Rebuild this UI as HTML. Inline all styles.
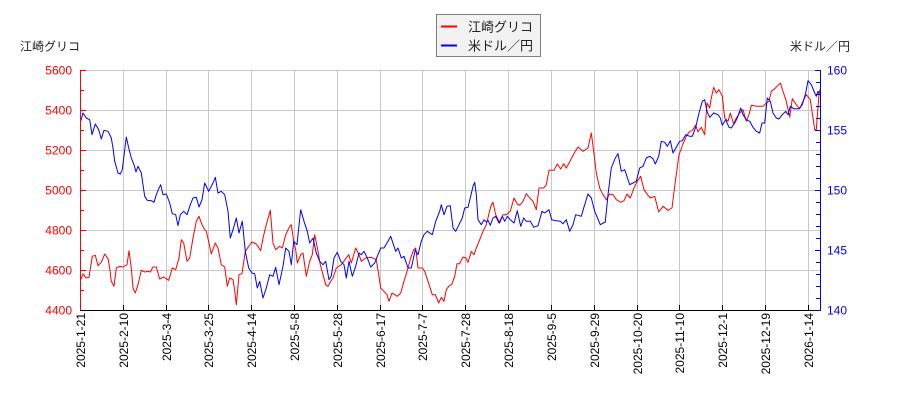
<!DOCTYPE html>
<html><head><meta charset="utf-8"><style>
html,body{margin:0;padding:0;background:#fff;}
svg{display:block;}
text{font-family:"Liberation Sans","Noto Sans CJK JP",sans-serif;}
</style></head><body>
<svg width="900" height="400" viewBox="0 0 900 400" xmlns="http://www.w3.org/2000/svg">
<rect width="900" height="400" fill="#fff"/>
<g stroke="#c8c8c8" stroke-width="1" shape-rendering="crispEdges">
<line x1="80" y1="70.5" x2="820" y2="70.5"/>
<line x1="80" y1="110.5" x2="820" y2="110.5"/>
<line x1="80" y1="150.5" x2="820" y2="150.5"/>
<line x1="80" y1="190.5" x2="820" y2="190.5"/>
<line x1="80" y1="230.5" x2="820" y2="230.5"/>
<line x1="80" y1="270.5" x2="820" y2="270.5"/>
<line x1="123.5" y1="70" x2="123.5" y2="310"/>
<line x1="166.5" y1="70" x2="166.5" y2="310"/>
<line x1="208.5" y1="70" x2="208.5" y2="310"/>
<line x1="251.5" y1="70" x2="251.5" y2="310"/>
<line x1="294.5" y1="70" x2="294.5" y2="310"/>
<line x1="337.5" y1="70" x2="337.5" y2="310"/>
<line x1="380.5" y1="70" x2="380.5" y2="310"/>
<line x1="422.5" y1="70" x2="422.5" y2="310"/>
<line x1="465.5" y1="70" x2="465.5" y2="310"/>
<line x1="508.5" y1="70" x2="508.5" y2="310"/>
<line x1="551.5" y1="70" x2="551.5" y2="310"/>
<line x1="594.5" y1="70" x2="594.5" y2="310"/>
<line x1="637.5" y1="70" x2="637.5" y2="310"/>
<line x1="679.5" y1="70" x2="679.5" y2="310"/>
<line x1="722.5" y1="70" x2="722.5" y2="310"/>
<line x1="765.5" y1="70" x2="765.5" y2="310"/>
<line x1="808.5" y1="70" x2="808.5" y2="310"/>
</g>

<polyline fill="none" stroke="#ff0000" stroke-width="1" stroke-linejoin="round" points="80.7,279.7 83,274 86.3,278 89,277.3 90.7,266.3 92.3,256.3 95.3,255.3 98,265.7 101.3,262.3 104.7,254 108,258.7 109.7,268 111.3,281.3 114,286.3 116.3,268 119.7,266.3 123,267 127,264.7 129,250.7 131.3,268 133,288 135.3,293 138,284.7 141.3,270.3 144.7,272 148,271.3 150.3,272 153,267 156.3,267 159.7,279 163.7,277 168.7,280.3 172.3,268 175.7,269.7 179,258 181.3,239.7 183.7,243 187,261.3 189.7,258 193,238 196.3,221.3 199,216.3 202,224.7 204.7,229.7 206.3,231.3 209,243 211.3,254 215.3,243 218,248 221.3,264.7 224.7,267 227.3,286.3 229.7,278 233,279.7 234.7,290.7 236.3,304.7 239,274.7 242,273.7 245.3,251.3 248.7,246.3 252,242 256.3,244 260.7,250.7 263,238 266.3,224.7 270.3,210.3 273,243 275.7,249.7 279.7,246.3 282.3,248 285.7,234.7 289.7,226.3 291.3,224.7 293.7,241.3 295.7,249.7 297.3,263 300.7,254.7 303,253 306.3,276.3 309.7,261.3 312.3,254.7 314.7,234.7 318,251.3 320.3,264.7 323,274.7 325.7,284.7 328,286.3 330.7,281.3 333,278 336.3,268 341.3,264.7 348.7,254.7 351.3,263 355.7,248 359,254.7 361.3,261.3 365.7,258 371.3,257.3 376.3,259.7 378.7,274.7 380.7,288 384,291.3 387,294.7 389,301.3 392,293 394.7,294.7 397.3,296.3 400.7,293 404,281.3 408,268 410.7,258 413.7,249.7 415.7,248 418,268 422.3,268 424.7,271.3 428,281.3 432.3,294.7 435.3,294.7 438.7,303 441.3,297.3 444,301.3 446.3,289.7 448.7,286.3 452,284 454.7,276.3 457,263.7 459.7,263.7 463,257 465.7,258 468,262.3 471.3,251.3 474,254.7 476.3,248 479.7,239.7 483,231.3 486.3,224.7 488.7,214.7 491.3,204.7 493,202.3 495.7,214.7 499.7,223 503,214.7 506.3,214.7 510.3,211.3 514,198 517.3,204 519.7,205.3 523,201.3 526.3,193.7 529.7,198 533,201.3 536.3,209.7 539,188 543.7,188 546.3,184.7 549,170.3 554,170.3 557.3,164 560.7,169 563.7,163.7 566.3,168 570.3,160.7 573.7,154 578,147 583,151.3 588,148 591.3,133 593.7,151.3 596.3,173 599.7,188 603,194.7 606.3,199.7 609.7,194 613,194.7 616.3,199.7 620.7,202.3 624,200.7 627,194 630.3,198 634,188 637.3,181.3 640.7,176.3 644,189.7 648,195.3 650.3,198 654.7,196.3 658.7,212 663,206.3 668,210.3 672,208 674.7,186.3 679,154.7 683,144 686.3,136.3 689.7,131.3 692.3,130.7 695.7,125 698,132 701.3,127.3 704.7,134.7 707,103 709.7,108 711.3,98 713.7,87.3 716.3,93 719,89.7 722.3,96.3 724.7,118 728,121.3 730.3,113 733.7,124 736.3,118 739.7,113 743,109.7 746.3,121.3 749,114.7 751.3,105.3 756.3,106.3 763,106.3 766.3,103 769,101.3 771.3,91.3 774.7,88.7 780.3,83 786.3,101.3 789.7,117.3 792.3,98.7 796.3,104.7 799.7,108.7 803,101.3 806.3,94.7 810.3,99.7 814.7,129.7 816.3,129.7 819,94.7 819.7,89.7"/>

<polyline fill="none" stroke="#0000ff" stroke-width="1" stroke-linejoin="round" points="80.7,121.3 83,113 86.3,118 89.7,119.7 92,134.7 95.3,124 98.7,129.7 101.3,139 104,130.3 108,131.3 111.3,138 113,148 114.7,161.3 118,173 120.3,174 122.3,169.7 123.7,158 126.3,137 128.7,148 131.3,158 134,164.7 136,172 138,166.3 139.7,169.7 141.3,173 143,184.7 144.7,196.3 147.3,200.3 151.3,200.7 154,202.3 156.3,194.7 159,188 160.7,184.7 163,194.7 166.3,194 169.7,203 172.3,213.7 175.7,214.7 178,225.7 180.3,214.7 183.7,211.3 187,214.7 190.3,204.7 193,198 196.3,197.3 199,207 202,199.7 204.7,183 208.7,191.3 213,183 215.3,177.3 218,193 221.3,191.3 224.7,194.7 228,211.3 230.3,238 233,229.7 236.3,218 239,233 242.3,221.3 245.3,251.3 248.7,268 252,273 254.7,273.7 257.3,288 259.7,281.3 263,298 266.3,288 269.7,274.7 273,276.3 275.7,267.3 279,284.7 283,266.3 285.7,248 289,251.3 291.3,264.7 293.7,241.3 297,244.7 298.7,228 300.7,209.7 304,221.3 307.3,231.3 309.7,243 313,238 316.3,253 319.7,261.3 323,264.7 325.7,261.3 329,279.7 331.3,276 334,258 337.3,252.3 340.7,261.3 344,264.7 346.3,278 349,261.3 352.3,276.3 355.7,266.3 359,253 361.3,254.7 364,251.3 367.3,258 370.7,267 374.7,263 377.3,256.3 380.7,248 384,248 388,241.3 390.7,236.3 395.7,251.3 398,248 401.3,258 404,256.3 408,268 411.3,268 415.3,249.7 418,254.7 421.3,241.3 424,234.7 427.3,231.3 432.3,234.7 435.7,221.3 439.7,211.3 441.3,204.7 444,214.7 447,206.3 450.3,205.7 453,228 455.7,231.3 459,224.7 462.3,218 464.7,208 468,207.3 470.7,196.3 473,186.3 474.7,182.3 476.3,194.7 478,219.7 481.3,224.7 484,219.7 486.3,222 488,220.3 490.3,225.3 493,218 495.7,216.3 499,223 502.3,216.3 504.7,221.3 507.3,216.3 510.3,219.7 514,223 517.3,210.7 520.7,226.3 523.7,218 526.3,221.3 530.3,221.3 533.7,227.3 538,225.7 542,211.3 544.7,213 549,209.7 551.7,219.7 556.3,220.7 560.3,221.3 563,223.7 566.3,219.7 569.7,231.3 573,224.7 575.7,214.7 581.3,216.3 583.7,208 588,194 591.3,198 594.7,211.3 600.3,224.7 605.3,222 608,194.7 611.3,168 615.3,158 618,153.7 621.3,171.3 624.7,169.7 629.7,184.7 633,183 636.3,181.3 639.7,168 643,166.3 646.3,158 649.7,156.3 653,158.7 655.3,164 658.7,156.3 661.3,141.3 664.7,142.3 667.3,146.3 670.3,140.7 673,153 676.3,147.3 679.7,141.3 682.3,140.7 685.7,134.7 689.7,136.3 692.3,136.3 695.7,127.3 699,113 702.3,101.3 704.7,99.7 707,111.3 709.7,117.3 713.7,113 718,114.7 720.3,118 722.3,125.3 725.7,119.7 729,127.3 731.3,128 734.7,123 737.3,118 740.7,108 743,114.7 746.3,119.7 749.7,121.3 753,127.3 756.3,131.3 759.7,133 762,123 764.7,123 767.3,98 770.3,101.3 773,113 776.3,118 779,119 782.3,114.7 785.7,111.3 788,114.7 790.3,106.3 793.7,108.7 799,108.7 802.3,104.7 805.7,93 808,80.7 811.3,84.7 814.7,93 816.3,96.3 818,91.3 820,95"/>

<g shape-rendering="crispEdges" stroke-width="1">
<line x1="80.5" y1="70" x2="80.5" y2="311" stroke="#ff0000"/>
<g stroke="#ff0000">
<line x1="80" y1="70.5" x2="86" y2="70.5"/><line x1="80" y1="90.5" x2="84" y2="90.5"/>
<line x1="80" y1="110.5" x2="86" y2="110.5"/><line x1="80" y1="130.5" x2="84" y2="130.5"/>
<line x1="80" y1="150.5" x2="86" y2="150.5"/><line x1="80" y1="170.5" x2="84" y2="170.5"/>
<line x1="80" y1="190.5" x2="86" y2="190.5"/><line x1="80" y1="210.5" x2="84" y2="210.5"/>
<line x1="80" y1="230.5" x2="86" y2="230.5"/><line x1="80" y1="250.5" x2="84" y2="250.5"/>
<line x1="80" y1="270.5" x2="86" y2="270.5"/><line x1="80" y1="290.5" x2="84" y2="290.5"/>
</g>
<line x1="80" y1="310.5" x2="821" y2="310.5" stroke="#000"/>
<g stroke="#000">
<line x1="123.5" y1="305" x2="123.5" y2="310"/><line x1="166.5" y1="305" x2="166.5" y2="310"/>
<line x1="208.5" y1="305" x2="208.5" y2="310"/><line x1="251.5" y1="305" x2="251.5" y2="310"/>
<line x1="294.5" y1="305" x2="294.5" y2="310"/><line x1="337.5" y1="305" x2="337.5" y2="310"/>
<line x1="380.5" y1="305" x2="380.5" y2="310"/><line x1="422.5" y1="305" x2="422.5" y2="310"/>
<line x1="465.5" y1="305" x2="465.5" y2="310"/><line x1="508.5" y1="305" x2="508.5" y2="310"/>
<line x1="551.5" y1="305" x2="551.5" y2="310"/><line x1="594.5" y1="305" x2="594.5" y2="310"/>
<line x1="637.5" y1="305" x2="637.5" y2="310"/><line x1="679.5" y1="305" x2="679.5" y2="310"/>
<line x1="722.5" y1="305" x2="722.5" y2="310"/><line x1="765.5" y1="305" x2="765.5" y2="310"/>
<line x1="808.5" y1="305" x2="808.5" y2="310"/>
</g>
<line x1="820.5" y1="70" x2="820.5" y2="311" stroke="#0000ff"/>
<g stroke="#0000ff">
<line x1="815" y1="70.5" x2="821" y2="70.5"/><line x1="816" y1="82.5" x2="821" y2="82.5"/>
<line x1="816" y1="94.5" x2="821" y2="94.5"/><line x1="816" y1="106.5" x2="821" y2="106.5"/>
<line x1="816" y1="118.5" x2="821" y2="118.5"/><line x1="815" y1="130.5" x2="821" y2="130.5"/>
<line x1="816" y1="142.5" x2="821" y2="142.5"/><line x1="816" y1="154.5" x2="821" y2="154.5"/>
<line x1="816" y1="166.5" x2="821" y2="166.5"/><line x1="816" y1="178.5" x2="821" y2="178.5"/>
<line x1="815" y1="190.5" x2="821" y2="190.5"/><line x1="816" y1="202.5" x2="821" y2="202.5"/>
<line x1="816" y1="214.5" x2="821" y2="214.5"/><line x1="816" y1="226.5" x2="821" y2="226.5"/>
<line x1="816" y1="238.5" x2="821" y2="238.5"/><line x1="815" y1="250.5" x2="821" y2="250.5"/>
<line x1="816" y1="262.5" x2="821" y2="262.5"/><line x1="816" y1="274.5" x2="821" y2="274.5"/>
<line x1="816" y1="286.5" x2="821" y2="286.5"/><line x1="816" y1="298.5" x2="821" y2="298.5"/>
<line x1="815" y1="310.5" x2="821" y2="310.5"/>
</g>
</g>

<g font-size="12" fill="#ff0000" text-anchor="end">
<text x="72" y="74.5">5600</text>
<text x="72" y="114.5">5400</text>
<text x="72" y="154.5">5200</text>
<text x="72" y="194.5">5000</text>
<text x="72" y="234.5">4800</text>
<text x="72" y="274.5">4600</text>
<text x="72" y="314.5">4400</text>
</g>
<g font-size="12" fill="#0000ff">
<text x="827" y="74.5">160</text>
<text x="827" y="134.5">155</text>
<text x="827" y="194.5">150</text>
<text x="827" y="254.5">145</text>
<text x="827" y="314.5">140</text>
</g>

<g font-size="12" fill="#000" text-anchor="end">
<text transform="translate(84.8,313) rotate(-90)">2025-1-21</text>
<text transform="translate(127.8,313) rotate(-90)">2025-2-10</text>
<text transform="translate(170.8,313) rotate(-90)">2025-3-4</text>
<text transform="translate(212.8,313) rotate(-90)">2025-3-25</text>
<text transform="translate(255.8,313) rotate(-90)">2025-4-14</text>
<text transform="translate(298.8,313) rotate(-90)">2025-5-8</text>
<text transform="translate(341.8,313) rotate(-90)">2025-5-28</text>
<text transform="translate(384.8,313) rotate(-90)">2025-6-17</text>
<text transform="translate(426.8,313) rotate(-90)">2025-7-7</text>
<text transform="translate(469.8,313) rotate(-90)">2025-7-28</text>
<text transform="translate(512.8,313) rotate(-90)">2025-8-18</text>
<text transform="translate(555.8,313) rotate(-90)">2025-9-5</text>
<text transform="translate(598.8,313) rotate(-90)">2025-9-29</text>
<text transform="translate(641.8,313) rotate(-90)">2025-10-20</text>
<text transform="translate(683.8,313) rotate(-90)">2025-11-10</text>
<text transform="translate(726.8,313) rotate(-90)">2025-12-1</text>
<text transform="translate(769.8,313) rotate(-90)">2025-12-19</text>
<text transform="translate(812.8,313) rotate(-90)">2026-1-14</text>
</g>

<g font-size="12" fill="#222">
<text x="20" y="50.5">江崎グリコ</text>
<text x="790" y="50.5">米ドル／円</text>
</g>

<rect x="436.5" y="14.5" width="104" height="42" fill="#f2f2f2" stroke="#808080" stroke-width="1" shape-rendering="crispEdges"/>
<line x1="441" y1="26.5" x2="457" y2="26.5" stroke="#ff0000" stroke-width="2" shape-rendering="crispEdges"/>
<line x1="441" y1="45.5" x2="457" y2="45.5" stroke="#0000ff" stroke-width="2" shape-rendering="crispEdges"/>
<g font-size="13" fill="#222">
<text x="468" y="31.5">江崎グリコ</text>
<text x="468" y="50.5">米ドル／円</text>
</g>
</svg>
</body></html>
